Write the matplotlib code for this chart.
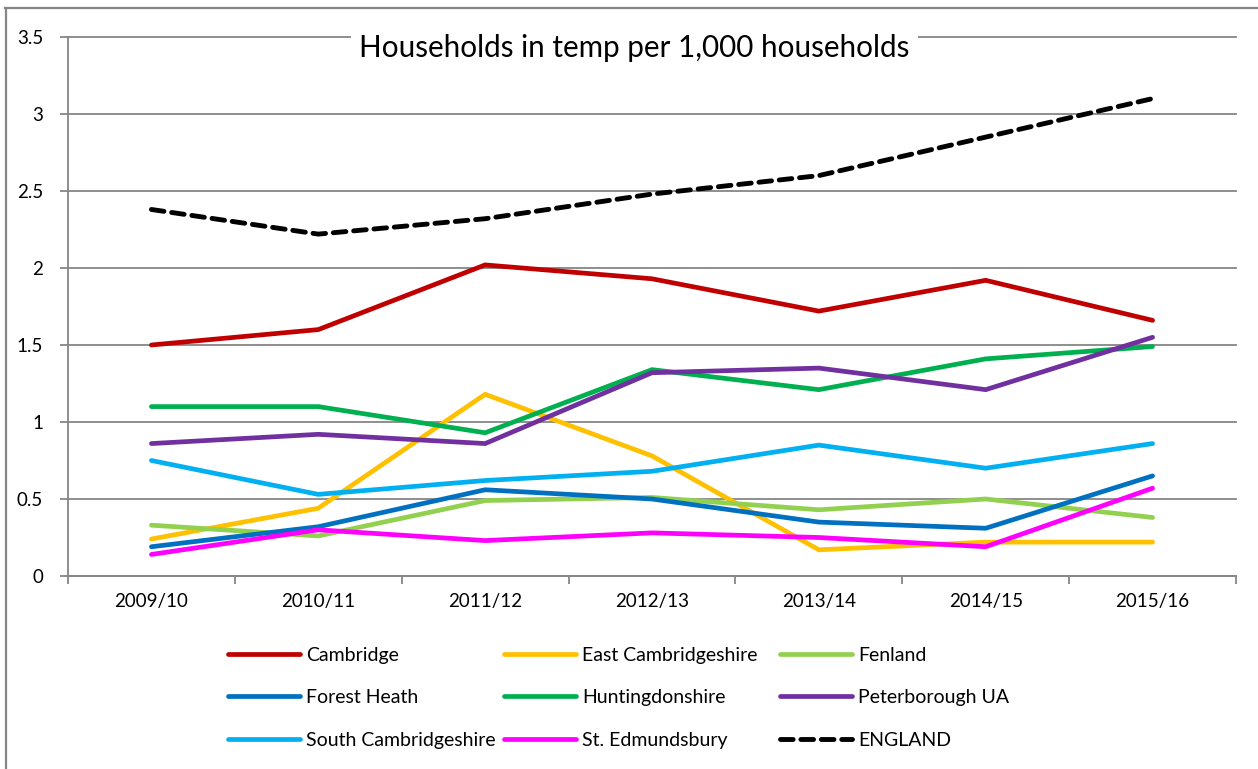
import numpy as np
import matplotlib
matplotlib.use("Agg")
import matplotlib.pyplot as plt
from matplotlib.lines import Line2D

plt.rcParams["font.family"] = ["Lato", "DejaVu Sans"]

# data
years = ["2009/10", "2010/11", "2011/12", "2012/13", "2013/14", "2014/15", "2015/16"]
cambridge       = [1.50, 1.60, 2.02, 1.93, 1.72, 1.92, 1.66]
east_cambs      = [0.24, 0.44, 1.18, 0.78, 0.17, 0.22, 0.22]
fenland         = [0.33, 0.26, 0.49, 0.51, 0.43, 0.50, 0.38]
forest_heath    = [0.19, 0.32, 0.56, 0.50, 0.35, 0.31, 0.65]
huntingdonshire = [1.10, 1.10, 0.93, 1.34, 1.21, 1.41, 1.49]
peterborough    = [0.86, 0.92, 0.86, 1.32, 1.35, 1.21, 1.55]
south_cambs     = [0.75, 0.53, 0.62, 0.68, 0.85, 0.70, 0.86]
st_edmundsbury  = [0.14, 0.30, 0.23, 0.28, 0.25, 0.19, 0.57]
england         = [2.38, 2.22, 2.32, 2.48, 2.60, 2.85, 3.10]

series = [
    ("Cambridge", cambridge, "#C00000"),
    ("East Cambridgeshire", east_cambs, "#FFC000"),
    ("Fenland", fenland, "#92D050"),
    ("Forest Heath", forest_heath, "#0070C0"),
    ("Huntingdonshire", huntingdonshire, "#00B050"),
    ("Peterborough UA", peterborough, "#7030A0"),
    ("South Cambridgeshire", south_cambs, "#00B0F0"),
    ("St. Edmundsbury", st_edmundsbury, "#FF00FF"),
    ("ENGLAND", england, "#000000"),
]

W, H = 1258, 769
fig = plt.figure(figsize=(W / 100, H / 100), dpi=100, facecolor="white")
ax = fig.add_axes([68 / W, 1 - 576 / H, (1236 - 68) / W, (576 - 37) / H])

GREY = "#868686"
x = np.arange(len(years))
handles = []
for name, vals, col in series:
    if name == "ENGLAND":
        ln, = ax.plot(x, vals, color=col, lw=3.5, dashes=(2.6, 1.6),
                      dash_capstyle="round", label=name, zorder=5)
    else:
        ln, = ax.plot(x, vals, color=col, lw=3.4, solid_capstyle="round",
                      solid_joinstyle="miter", label=name, zorder=3)
    handles.append(ln)

ax.set_xlim(-0.5, len(years) - 0.5)
ax.set_ylim(0, 3.5)
ax.set_yticks(np.arange(0, 3.51, 0.5))
ax.set_yticklabels(["0", "0.5", "1", "1.5", "2", "2.5", "3", "3.5"])
ax.yaxis.grid(True, color=GREY, lw=1.3, zorder=1)
ax.set_axisbelow(True)
for gl in ax.get_ygridlines():
    gl.set_clip_on(False)

ax.set_xticks(x)
ax.set_xticklabels(years)
ax.set_xticks(np.arange(-0.5, len(years)), minor=True)
ax.tick_params(axis="x", which="major", length=0, pad=12, labelsize=13.5, colors="black")
ax.tick_params(axis="x", which="minor", length=6, width=1.3, color=GREY, direction="out")
ax.tick_params(axis="y", length=6, width=1.3, color=GREY, pad=12, labelsize=13.5)

for s in ["top", "right"]:
    ax.spines[s].set_visible(False)
for s in ["left", "bottom"]:
    ax.spines[s].set_color(GREY)
    ax.spines[s].set_linewidth(1.3)

# title sitting on the plot area
fig.text(634.5 / W, 1 - 48 / H, "Households in temp per 1,000 households",
         ha="center", va="center", fontsize=21.3, color="black",
         bbox=dict(facecolor="white", edgecolor="none", pad=6), zorder=10)

# legend: three columns, three rows
col_x = [228 / W, 504 / W, 780 / W]
for c in range(3):
    hs = [handles[r * 3 + c] for r in range(3)]
    lg = fig.legend(handles=hs, labels=[h.get_label() for h in hs],
                    loc="upper left", bbox_to_anchor=(col_x[c], 1 - 647 / H),
                    frameon=False, fontsize=14, handlelength=3.7, handletextpad=0.3,
                    labelspacing=1.3, borderpad=0, borderaxespad=0)
    for t in lg.get_texts():
        t.set_color("black")

# outer chart border
fig.add_artist(Line2D([5 / W, 1], [1 - 7.5 / H, 1 - 7.5 / H], color=GREY, lw=1.6))
fig.add_artist(Line2D([6 / W, 6 / W], [0, 1 - 7.5 / H], color=GREY, lw=1.6))

fig.savefig("out.png", dpi=100, facecolor="white")
